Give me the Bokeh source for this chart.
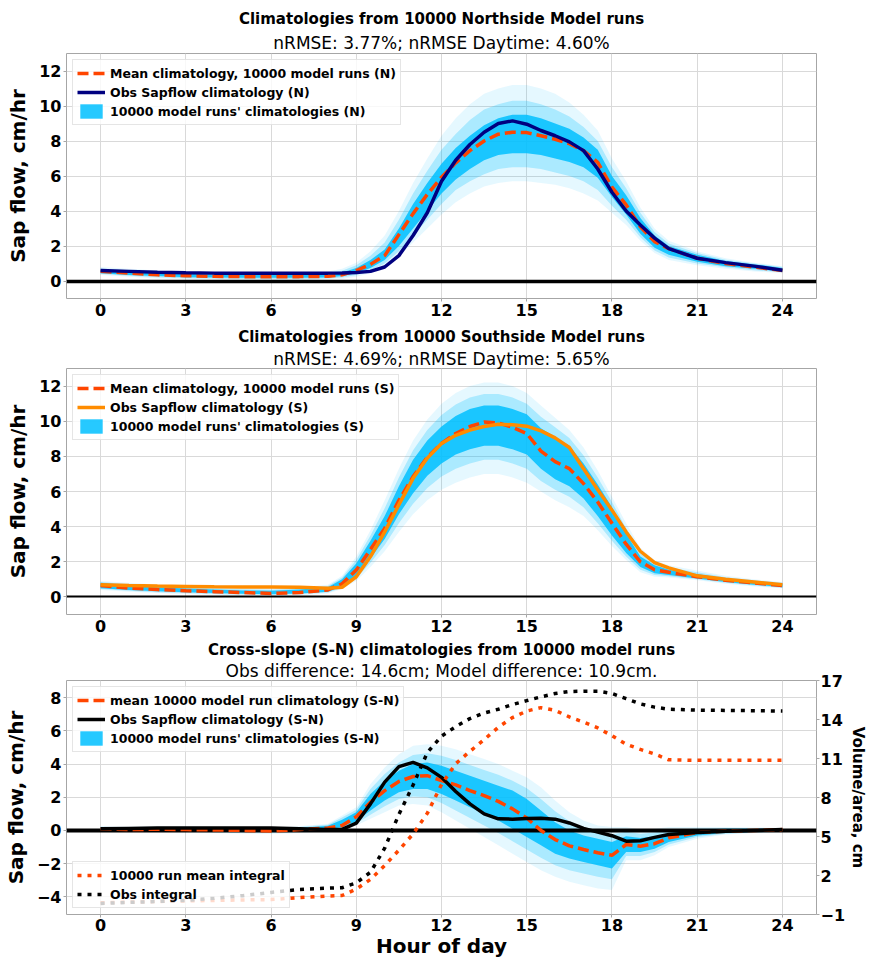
from bokeh.plotting import figure
from bokeh.models import Range1d, LinearAxis, FixedTicker, Legend, LegendItem, Title
from bokeh.layouts import column
from bokeh.embed import file_html
from bokeh.resources import INLINE

# ---------------- data ----------------
hours = [0, 1, 2, 3, 4, 5, 6, 7, 8, 8.5, 9, 9.5, 10, 10.5, 11, 11.5, 12, 12.5, 13, 13.5,
         14, 14.5, 15, 15.5, 16, 16.5, 17, 17.5, 18, 18.5, 19, 19.5, 20, 21, 22, 23, 24]
x_ticks = [0, 3, 6, 9, 12, 15, 18, 21, 24]
y_ticks_ns = [0, 2, 4, 6, 8, 10, 12]
y_ticks_sn = [-4, -2, 0, 2, 4, 6, 8]
vol_ticks = [-1, 2, 5, 8, 11, 14, 17]

# Northside
obs_N = [0.6, 0.55, 0.5, 0.47, 0.45, 0.45, 0.45, 0.45, 0.45,
         0.46, 0.48, 0.55, 0.8, 1.45, 2.6, 3.9, 5.7, 6.9, 7.8, 8.5, 9.0, 9.15, 8.96, 8.6,
         8.3, 7.95, 7.45, 6.4, 5.07, 4.0, 3.2, 2.45, 1.85,
         1.3, 1.05, 0.85, 0.62]
mean_N = [0.55, 0.45, 0.35, 0.3, 0.27, 0.25, 0.25, 0.25, 0.27,
          0.35, 0.6, 0.95, 1.45, 2.65, 3.85, 4.95, 5.93, 6.75, 7.45, 8.0, 8.39, 8.5, 8.48, 8.3,
          8.1, 7.85, 7.45, 6.78, 5.36, 4.35, 3.1, 2.25, 1.85,
          1.3, 1.0, 0.8, 0.6]
N_in_lo = [0.45, 0.35, 0.28, 0.22, 0.2, 0.18, 0.18, 0.18, 0.2,
           0.28, 0.45, 0.75, 1.2, 2.0, 3.0, 4.0, 5.0, 5.8, 6.4, 6.9, 7.2, 7.3, 7.3, 7.2,
           7.0, 6.8, 6.5, 5.9, 4.8, 3.8, 2.7, 1.9, 1.5,
           1.1, 0.85, 0.7, 0.55]
N_in_hi = [0.65, 0.55, 0.45, 0.4, 0.37, 0.35, 0.35, 0.35, 0.38,
           0.48, 0.75, 1.2, 1.8, 3.0, 4.4, 5.6, 6.7, 7.6, 8.3, 8.9, 9.3, 9.5, 9.5, 9.3,
           9.0, 8.7, 8.2, 7.5, 6.0, 4.9, 3.6, 2.6, 2.0,
           1.5, 1.15, 0.95, 0.75]
N_mid_lo = [0.4, 0.3, 0.22, 0.16, 0.14, 0.12, 0.12, 0.12, 0.14,
            0.2, 0.35, 0.6, 1.0, 1.7, 2.6, 3.5, 4.4, 5.2, 5.7, 6.1, 6.4, 6.5, 6.5, 6.4,
            6.2, 6.0, 5.7, 5.2, 4.3, 3.5, 2.5, 1.75, 1.35,
            1.0, 0.78, 0.62, 0.5]
N_mid_hi = [0.72, 0.62, 0.52, 0.47, 0.44, 0.42, 0.42, 0.42, 0.46,
            0.58, 0.9, 1.45, 2.2, 3.5, 5.0, 6.3, 7.5, 8.4, 9.2, 9.8, 10.1, 10.3, 10.3, 10.1,
            9.8, 9.4, 8.8, 8.0, 6.5, 5.3, 3.9, 2.8, 2.15,
            1.6, 1.22, 1.0, 0.8]
N_out_lo = [0.35, 0.25, 0.15, 0.1, 0.08, 0.05, 0.05, 0.05, 0.08,
            0.12, 0.25, 0.45, 0.8, 1.4, 2.2, 3.0, 3.8, 4.5, 5.0, 5.4, 5.6, 5.7, 5.7, 5.6,
            5.5, 5.3, 5.0, 4.6, 3.9, 3.2, 2.3, 1.6, 1.2,
            0.9, 0.7, 0.55, 0.45]
N_out_hi = [0.8, 0.7, 0.6, 0.55, 0.5, 0.5, 0.5, 0.5, 0.55,
            0.7, 1.05, 1.7, 2.6, 4.0, 5.6, 7.0, 8.3, 9.3, 10.1, 10.7, 11.0, 11.2, 11.2, 11.0,
            10.7, 10.2, 9.5, 8.6, 7.0, 5.7, 4.2, 3.0, 2.3,
            1.7, 1.3, 1.05, 0.85]

# Southside
obs_S = [0.7, 0.65, 0.62, 0.6, 0.58, 0.57, 0.56, 0.55, 0.5,
         0.55, 1.15, 2.3, 3.7, 5.25, 6.75, 7.9, 8.73, 9.2, 9.5, 9.7, 9.83, 9.8, 9.72, 9.45,
         9.05, 8.5, 7.3, 6.1, 4.94, 3.7, 2.6, 1.95, 1.65,
         1.2, 1.0, 0.85, 0.7]
mean_S = [0.65, 0.5, 0.42, 0.35, 0.3, 0.25, 0.2, 0.25, 0.4,
          0.75, 1.53, 2.7, 3.9, 5.5, 6.85, 7.95, 8.73, 9.3, 9.7, 9.95, 9.9, 9.65, 9.3, 8.3,
          7.7, 7.3, 6.45, 5.4, 4.19, 3.0, 2.0, 1.55, 1.4,
          1.15, 0.95, 0.8, 0.65]
S_in_lo = [0.5, 0.4, 0.32, 0.27, 0.22, 0.18, 0.15, 0.2, 0.3,
           0.6, 1.2, 2.2, 3.3, 4.7, 5.9, 6.9, 7.6, 8.1, 8.4, 8.6, 8.6, 8.4, 8.1, 7.3,
           6.7, 6.3, 5.6, 4.6, 3.5, 2.5, 1.7, 1.35, 1.25,
           1.05, 0.85, 0.7, 0.55]
S_in_hi = [0.8, 0.65, 0.55, 0.48, 0.42, 0.37, 0.35, 0.42, 0.55,
           1.0, 1.9, 3.2, 4.6, 6.3, 7.8, 8.9, 9.7, 10.3, 10.7, 10.9, 10.9, 10.7, 10.4, 9.6,
           9.1, 8.6, 7.6, 6.4, 5.1, 3.6, 2.3, 1.8, 1.55,
           1.3, 1.05, 0.9, 0.75]
S_mid_lo = [0.45, 0.35, 0.27, 0.22, 0.17, 0.14, 0.12, 0.15, 0.25,
            0.52, 1.05, 1.95, 2.95, 4.2, 5.3, 6.2, 6.85, 7.3, 7.6, 7.8, 7.8, 7.6, 7.3, 6.6,
            6.1, 5.7, 5.1, 4.2, 3.2, 2.3, 1.55, 1.25, 1.18,
            1.0, 0.8, 0.65, 0.52]
S_mid_hi = [0.85, 0.72, 0.62, 0.55, 0.48, 0.43, 0.41, 0.48, 0.62,
            1.1, 2.1, 3.5, 5.05, 6.8, 8.35, 9.5, 10.35, 10.95, 11.35, 11.55, 11.55, 11.35, 11.0, 10.25,
            9.65, 9.05, 8.05, 6.8, 5.4, 3.9, 2.55, 1.95, 1.68,
            1.4, 1.12, 0.95, 0.8]
S_out_lo = [0.4, 0.3, 0.22, 0.17, 0.12, 0.1, 0.08, 0.1, 0.2,
            0.45, 0.9, 1.7, 2.6, 3.7, 4.7, 5.5, 6.1, 6.5, 6.8, 7.0, 7.0, 6.8, 6.5, 6.0,
            5.5, 5.1, 4.6, 3.8, 2.9, 2.1, 1.4, 1.15, 1.1,
            0.95, 0.75, 0.6, 0.5]
S_out_hi = [0.9, 0.8, 0.7, 0.62, 0.55, 0.5, 0.48, 0.55, 0.7,
            1.2, 2.3, 3.8, 5.5, 7.3, 8.9, 10.1, 11.0, 11.6, 12.0, 12.2, 12.2, 12.0, 11.6, 10.9,
            10.2, 9.5, 8.5, 7.2, 5.7, 4.2, 2.8, 2.1, 1.8,
            1.5, 1.2, 1.0, 0.85]

# Cross-slope (S-N)
obs_SN = [0.1, 0.12, 0.14, 0.15, 0.15, 0.15, 0.14, 0.1, 0.05,
          0.06, 0.44, 1.6, 2.91, 3.85, 4.1, 3.77, 3.2, 2.35, 1.6, 1.0, 0.7, 0.68, 0.72, 0.73,
          0.68, 0.45, 0.12, -0.1, -0.32, -0.65, -0.62, -0.42, -0.25,
          -0.13, -0.05, 0.0, 0.05]
mean_SN = [0.1, 0.05, 0.07, 0.05, 0.03, 0.0, -0.03, 0.05, 0.15,
           0.3, 0.82, 1.7, 2.4, 2.95, 3.25, 3.3, 3.01, 2.75, 2.4, 2.1, 1.75, 1.3, 0.75, 0.0,
           -0.55, -0.93, -1.15, -1.35, -1.5, -0.85, -0.95, -0.8, -0.45,
           -0.13, -0.05, 0.0, 0.05]
SN_in_lo = [0.0, -0.02, -0.02, -0.03, -0.05, -0.07, -0.1, -0.03, 0.05,
            0.2, 0.55, 1.2, 1.8, 2.3, 2.5, 2.5, 2.2, 1.8, 1.4, 1.0, 0.6, 0.1, -0.4, -0.9,
            -1.4, -1.7, -1.9, -2.1, -2.3, -1.3, -1.3, -1.1, -0.7,
            -0.3, -0.15, -0.1, -0.05]
SN_in_hi = [0.2, 0.15, 0.17, 0.15, 0.13, 0.1, 0.08, 0.15, 0.28,
            0.65, 1.1, 2.2, 3.0, 3.6, 4.0, 4.1, 3.9, 3.6, 3.3, 3.0, 2.7, 2.4, 1.9, 1.2,
            0.5, 0.0, -0.3, -0.5, -0.7, -0.35, -0.45, -0.35, -0.15,
            0.05, 0.1, 0.1, 0.12]
SN_mid_lo = [-0.02, -0.05, -0.06, -0.08, -0.1, -0.12, -0.16, -0.09, 0.0,
             0.12, 0.42, 0.95, 1.45, 1.9, 2.05, 2.0, 1.65, 1.2, 0.75, 0.3, -0.15, -0.65, -1.15, -1.65,
             -2.1, -2.4, -2.6, -2.8, -2.95, -1.55, -1.55, -1.3, -0.85,
             -0.4, -0.2, -0.12, -0.08]
SN_mid_hi = [0.22, 0.18, 0.21, 0.2, 0.18, 0.15, 0.13, 0.2, 0.34,
             0.78, 1.25, 2.5, 3.4, 4.1, 4.55, 4.65, 4.5, 4.25, 3.95, 3.65, 3.35, 3.0, 2.55, 1.9,
             1.15, 0.55, 0.15, -0.1, -0.25, -0.08, -0.2, -0.12, 0.02,
             0.12, 0.15, 0.14, 0.13]
SN_out_lo = [-0.05, -0.08, -0.1, -0.12, -0.15, -0.18, -0.22, -0.15, -0.05,
             0.05, 0.3, 0.7, 1.1, 1.5, 1.6, 1.5, 1.1, 0.6, 0.1, -0.4, -0.9, -1.4, -1.9, -2.4,
             -2.8, -3.1, -3.3, -3.5, -3.6, -1.8, -1.8, -1.5, -1.0,
             -0.5, -0.25, -0.15, -0.1]
SN_out_hi = [0.25, 0.22, 0.25, 0.25, 0.22, 0.2, 0.18, 0.25, 0.4,
             0.9, 1.4, 2.8, 3.8, 4.6, 5.1, 5.2, 5.1, 4.9, 4.6, 4.3, 4.0, 3.6, 3.2, 2.6,
             1.8, 1.1, 0.6, 0.3, 0.2, 0.2, 0.05, 0.1, 0.2,
             0.2, 0.2, 0.18, 0.15]
obs_int = [-0.15, -0.07, 0.0, 0.09, 0.25, 0.45, 0.7, 0.92, 1.03,
           1.06, 1.43, 2.25, 4.1, 6.7, 8.96, 11.45, 12.72, 13.45, 14.07, 14.5, 14.79, 15.15, 15.45, 15.74,
           16.0, 16.15, 16.18, 16.18, 16.0, 15.6, 15.2, 14.95, 14.79,
           14.72, 14.7, 14.68, 14.65]
model_int = [-0.1, -0.05, 0.0, 0.05, 0.08, 0.12, 0.15, 0.3, 0.42,
             0.46, 0.95, 1.7, 2.77, 3.95, 5.2, 6.78, 9.0, 10.6, 11.55, 12.45, 13.4, 14.15, 14.65, 14.91,
             14.7, 14.2, 13.8, 13.35, 12.75, 12.1, 11.7, 11.35, 10.9,
             10.86, 10.86, 10.86, 10.86]

# ---------------- style ----------------
FONT = "DejaVu Sans"
BLUE = "#00bfff"
RED = "#ff4500"
NAVY = "#000080"
ORANGE = "#ff8c00"
GRID = "#d9d9d9"
SPINE = "#a6a6a6"


def style_axis(ax):
    ax.axis_line_color = None
    ax.major_tick_line_color = SPINE
    ax.major_tick_in = 0
    ax.major_tick_out = 3
    ax.minor_tick_line_color = None
    ax.major_label_text_font = FONT
    ax.major_label_text_font_style = "bold"
    ax.major_label_text_font_size = "16px"
    ax.major_label_text_color = "black"
    ax.major_label_standoff = 2


def make_fig(height, yr, yticks, top, bottom):
    p = figure(width=870, height=height, x_range=Range1d(-1.2, 25.2), y_range=Range1d(*yr),
               output_backend="svg", toolbar_location=None,
               min_border_left=61, min_border_right=52, min_border_top=top, min_border_bottom=bottom)
    p.outline_line_color = SPINE
    p.background_fill_color = "white"
    p.border_fill_color = "white"
    p.xaxis.ticker = FixedTicker(ticks=x_ticks)
    p.yaxis.ticker = FixedTicker(ticks=yticks)
    p.xgrid.ticker = FixedTicker(ticks=x_ticks)
    p.ygrid.ticker = FixedTicker(ticks=yticks)
    p.grid.grid_line_color = GRID
    p.grid.grid_line_width = 1
    for ax in p.xaxis + p.yaxis:
        style_axis(ax)
    p.yaxis.axis_label = "Sap flow, cm/hr"
    p.yaxis.axis_label_text_font = FONT
    p.yaxis.axis_label_text_font_style = "bold"
    p.yaxis.axis_label_text_font_size = "20px"
    p.yaxis.axis_label_text_color = "black"
    p.yaxis.axis_label_standoff = 6
    return p


def make_title(text, size, style, standoff, line_height=1.0):
    return Title(text=text, text_font=FONT, text_font_size=size, text_font_style=style,
                 align="center", standoff=standoff, text_color="black", text_line_height=line_height)


def make_legend(items, location):
    return Legend(items=items, location=location, margin=6, padding=4, spacing=1,
                  label_height=18, glyph_height=18, glyph_width=28, label_standoff=5,
                  label_text_font=FONT, label_text_font_style="bold", label_text_font_size="12.5px",
                  label_text_color="black",
                  border_line_color="#cccccc", border_line_width=1,
                  background_fill_color="white", background_fill_alpha=0.8)


def draw_panel(p, bands, mean, obs, obs_color, zero_w):
    (lo_out, hi_out), (lo_mid, hi_mid), (lo_in, hi_in) = bands
    p.varea(x=hours, y1=lo_out, y2=hi_out, fill_color=BLUE, fill_alpha=0.1)
    p.varea(x=hours, y1=lo_mid, y2=hi_mid, fill_color=BLUE, fill_alpha=0.25)
    band = p.varea(x=hours, y1=lo_in, y2=hi_in, fill_color=BLUE, fill_alpha=0.85)
    p.hspan(y=[0], line_color="black", line_width=zero_w)
    r_mean = p.line(hours, mean, line_color=RED, line_width=3.5, line_dash="11 5")
    r_obs = p.line(hours, obs, line_color=obs_color, line_width=3.5)
    return band, r_mean, r_obs


# ---------------- panel 1: Northside ----------------
p1 = make_fig(322, (-1, 13), y_ticks_ns, 53, 24)
p1.add_layout(make_title("nRMSE: 3.77%; nRMSE Daytime: 4.60%", "17px", "normal", 1), "above")
p1.add_layout(make_title("Climatologies from 10000 Northside Model runs", "15px", "bold", 6), "above")
b1, m1, o1 = draw_panel(p1, [(N_out_lo, N_out_hi), (N_mid_lo, N_mid_hi), (N_in_lo, N_in_hi)],
                        mean_N, obs_N, NAVY, 3.5)
p1.add_layout(make_legend([
    LegendItem(label="Mean climatology, 10000 model runs (N)", renderers=[m1]),
    LegendItem(label="Obs Sapflow climatology (N)", renderers=[o1]),
    LegendItem(label="10000 model runs' climatologies (N)", renderers=[b1]),
], "top_left"))

# ---------------- panel 2: Southside ----------------
p2 = make_fig(316, (-1, 13), y_ticks_ns, 46, 24)
p2.add_layout(make_title("nRMSE: 4.69%; nRMSE Daytime: 5.65%", "17px", "normal", 0), "above")
p2.add_layout(make_title("Climatologies from 10000 Southside Model runs", "15px", "bold", 1), "above")
b2, m2, o2 = draw_panel(p2, [(S_out_lo, S_out_hi), (S_mid_lo, S_mid_hi), (S_in_lo, S_in_hi)],
                        mean_S, obs_S, ORANGE, 2.2)
p2.add_layout(make_legend([
    LegendItem(label="Mean climatology, 10000 model runs (S)", renderers=[m2]),
    LegendItem(label="Obs Sapflow climatology (S)", renderers=[o2]),
    LegendItem(label="10000 model runs' climatologies (S)", renderers=[b2]),
], "top_left"))

# ---------------- panel 3: Cross-slope ----------------
p3 = make_fig(322, (-5.07, 9.04), y_ticks_sn, 35, 40)
p3.add_layout(make_title("Obs difference: 14.6cm; Model difference: 10.9cm.", "17px", "normal", 0, 0.1), "above")
p3.add_layout(make_title("Cross-slope (S-N) climatologies from 10000 model runs", "15px", "bold", 0, 0.1), "above")
b3, m3, o3 = draw_panel(p3, [(SN_out_lo, SN_out_hi), (SN_mid_lo, SN_mid_hi), (SN_in_lo, SN_in_hi)],
                        mean_SN, obs_SN, "black", 4)
p3.extra_y_ranges = {"vol": Range1d(-1, 17)}
vax = LinearAxis(y_range_name="vol", ticker=FixedTicker(ticks=vol_ticks), axis_label="Volume/area, cm")
style_axis(vax)
vax.major_label_standoff = 1
vax.axis_label_text_font = FONT
vax.axis_label_text_font_style = "bold"
vax.axis_label_text_font_size = "15px"
vax.axis_label_text_color = "black"
vax.axis_label_text_line_height = 0.6
vax.axis_label_standoff = 1
p3.add_layout(vax, "right")
ri_model = p3.line(hours, model_int, y_range_name="vol", line_color=RED, line_width=3.5, line_dash="4 6")
ri_obs = p3.line(hours, obs_int, y_range_name="vol", line_color="black", line_width=3.5, line_dash="4 6")
p3.add_layout(make_legend([
    LegendItem(label="mean 10000 model run climatology (S-N)", renderers=[m3]),
    LegendItem(label="Obs Sapflow climatology (S-N)", renderers=[o3]),
    LegendItem(label="10000 model runs' climatologies (S-N)", renderers=[b3]),
], "top_left"))
p3.add_layout(make_legend([
    LegendItem(label="10000 run mean integral", renderers=[ri_model]),
    LegendItem(label="Obs integral", renderers=[ri_obs]),
], "bottom_left"))
p3.xaxis.axis_label = "Hour of day"
p3.xaxis.axis_label_text_font = FONT
p3.xaxis.axis_label_text_font_style = "bold"
p3.xaxis.axis_label_text_font_size = "20px"
p3.xaxis.axis_label_text_color = "black"
p3.xaxis.axis_label_text_line_height = 0.4
p3.xaxis.axis_label_standoff = 0
p3.xaxis.major_label_standoff = 1

layout = column(p1, p2, p3, spacing=0)
open("out.html", "w").write(file_html(layout, INLINE))
